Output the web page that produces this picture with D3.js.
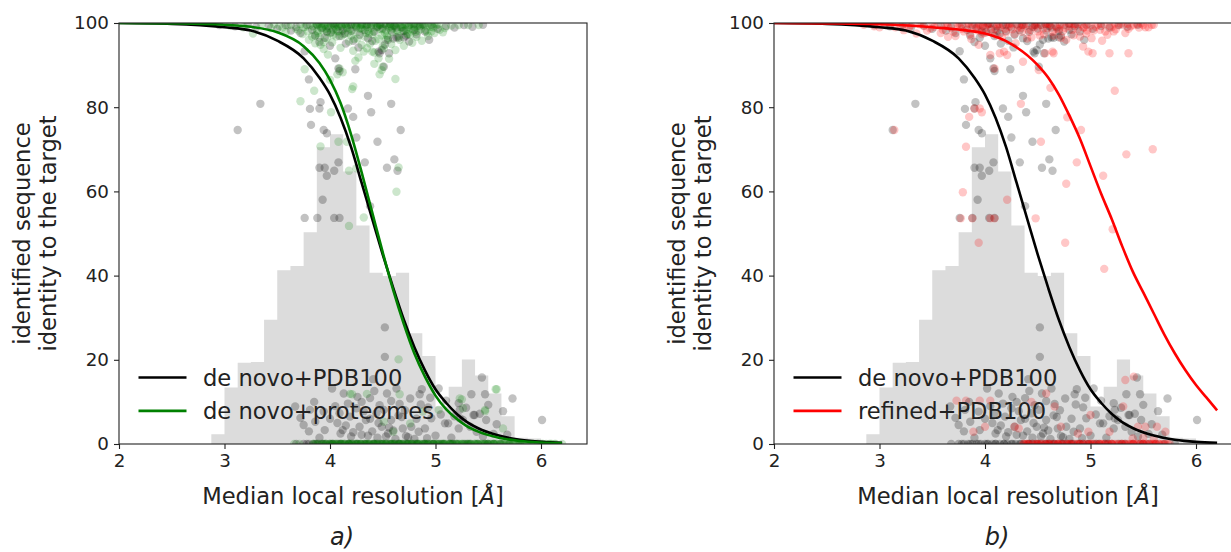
<!DOCTYPE html>
<html>
<head>
<meta charset="utf-8">
<script src="https://cdn.jsdelivr.net/npm/d3@7"></script>
<style>
  body { margin: 0; background: #fff; }
  svg text { font-family: "DejaVu Sans", sans-serif; fill: #222; }
</style>
</head>
<body>
<div id="fig"></div>
<script>
// histogram of median local resolution (bins of 0.125 starting at 2.875), heights in y units
var binStart = 2.875
var binWidth = 0.125
var histHeights = [2.3, 13.4, 19.3, 19.5, 29.5, 41.3, 42.3, 50.3, 70.5, 73.6, 64.7, 51.9, 40.7, 39.9, 40.7,
	26.3, 20.9, 8.9, 13.6, 20.1, 16.3, 12.0, 6.6, 1.5, 1.3, 0.5]

// fitted curves
var curveX = [2.0, 2.5, 3.0, 3.25, 3.5, 3.75, 3.9, 4.0, 4.1, 4.2, 4.3, 4.4, 4.5, 4.6, 4.7, 4.8, 4.9, 5.0, 5.1, 5.2, 5.3, 5.4, 5.6, 5.8, 6.0, 6.2]
var deNovoPDB = [100, 99.8, 99.0, 98.2, 95.8, 91.6, 87.0, 83.0, 77.5, 70.5, 62.0, 53.5, 45.0, 37.0, 29.5, 23.0, 17.5, 13.0, 9.8, 7.2, 5.2, 3.8, 2.0, 1.0, 0.5, 0.3]
var deNovoProteomes = [100, 99.9, 99.6, 99.1, 97.8, 94.5, 90.5, 86.5, 81.0, 73.5, 64.5, 55.0, 45.5, 36.5, 28.5, 21.5, 16.0, 11.5, 8.3, 6.0, 4.2, 3.0, 1.5, 0.7, 0.35, 0.2]
var refinedX = [2.0, 2.5, 3.0, 3.5, 4.0, 4.25, 4.5, 4.6, 4.7, 4.8, 4.9, 5.0, 5.1, 5.2, 5.3, 5.4, 5.5, 5.6, 5.7, 5.8, 5.9, 6.0, 6.1, 6.2]
var refinedPDB = [100, 99.9, 99.7, 99.0, 97.5, 95.0, 90.0, 87.0, 83.0, 78.0, 72.5, 66.0, 59.5, 53.5, 47.0, 41.0, 36.0, 31.0, 26.0, 21.5, 17.5, 14.0, 11.0, 8.0]

// scatter: de novo + PDB100 (shown in both panels)
var blackPts = [[3.125,74.6],[3.34,80.8],[3.80,86.6],[3.81,79.6],[3.90,79.7],[3.91,81.2],[4.05,91.6],[4.08,89.2],[4.09,88.6],
	[4.24,89],[4.36,82.7],[4.58,80.8],[4.39,78.8],[4.22,77.7],[3.82,75.8],[4.94,96],[4.63,96.6],[4.70,96.6],[4.56,92.8],
	[4.47,92.8],[4.46,93.2],[4.17,79.7],[3.94,74.6],[3.97,73.8],[4.67,74.6],[4.25,72.8],[4.45,71.8],[4.08,66.9],[4.33,66.9],
	[4.61,67.6],[4.54,65.6],[4.64,64.9],[3.90,65.6],[3.95,65.6],[4.04,64.9],[3.97,63.7],[3.93,58],[3.76,53.7],[3.88,53.7],
	[4.04,53.7],[4.09,53.7],[4.38,56.5],[4.52,27.7],[4.52,20.7],[4.41,15.4],[5.44,15.8],[5.34,11.8],[5.47,11.8],[5.73,10.8],
	[5.64,7.8],[6.01,5.7],[4.02,13.2],[4.13,12],[4.38,10.9],[4.54,12],[4.63,13.2],[4.87,13],[5.03,13.2],[5.22,9.7],[5.37,6.9],
	[5.48,5.7],[3.85,10],[4.76,10.8],[4.85,11.8],[5.23,8.1],[5.36,6.9],[5.26,5.7],[5.12,4.9],[5.22,3.7],[3.67,8.9],[3.81,8.1],
	[3.94,7.7],[4.09,7.3],[4.19,6.5],[4.28,4.1],[4.34,5.7],[4.44,7.3],[4.49,4.1],[4.58,5.7],[4.69,3.7],[4.77,4.1],[4.84,2.9],
	[4.90,3.7],[4.96,6.1],[5.09,4.9],[5.23,6.1],[5.33,4.1],[5.39,2.9],[4.10,2.5],[4.20,1.8],[4.30,2.2],[4.45,1.5],[4.55,2.5],
	[4.62,1.2],[4.72,1.9],[4.80,1.2],[4.12,3.3],[4.40,3.0],[5.0,2.0],[5.15,1.5],[5.45,1.8],[5.55,2.4],[3.95,3.3],[4.25,8.5],
	[4.47,9.2],[4.66,9.5],[4.93,8.7],[3.75,4.5],[4.68,6.4],[4.30,10.0],[4.58,10.2],[3.76,93.3],[4.49,93.6],[4.51,89.6],
	[4.55,96],[4.65,96.5],[4.72,97],
	[3.72,6.2],[3.86,5.3],[3.9,1.5],[4.0,6.0],[4.05,9.0],[4.15,4.4],[4.17,9.6],[4.22,2.8],[4.26,11.2],[4.32,7.8],[4.36,2.0],
	[4.42,12.6],[4.46,5.0],[4.51,8.1],[4.53,1.8],[4.6,3.2],[4.65,6.8],[4.71,8.0],[4.74,1.6],[4.82,6.0],[4.86,9.4],[4.92,1.4],
	[4.95,11.0],[5.05,7.0],[5.1,10.3],[5.18,6.6],[5.29,8.6],[5.42,7.2],[5.5,9.3],[5.58,4.7],[5.68,2.2],[3.8,3.0],[4.07,5.0],
	[4.38,6.0],[4.56,3.9]]
var blackTop = [[2.95,99.5],[3.1,99.2],[3.22,99.6],[3.3,99.0],[3.42,99.4],[3.5,98.6],[3.58,99.5],[3.63,98.2],[3.68,99.1],
	[3.72,97.6],[3.78,99.5],[3.83,98.4],[3.86,97.0],[3.88,99.6],[3.92,98.8],[3.95,96.5],[3.98,99.3],[4.01,97.8],[4.03,99.7],
	[4.06,98.5],[4.09,96.9],[4.11,99.2],[4.14,97.5],[4.17,99.6],[4.2,98.1],[4.22,95.8],[4.25,99.0],[4.28,97.2],[4.3,99.7],
	[4.33,98.3],[4.36,96.4],[4.39,99.4],[4.42,97.9],[4.45,99.1],[4.5,98.7],[4.53,99.6],[4.58,98.2],[4.61,99.3],[4.68,99.0],
	[4.75,99.5],[4.8,98.4],[4.85,99.2],[4.9,98.0],[4.96,99.6],[5.02,98.6],[5.1,99.3],[5.18,98.9],[5.27,99.5],[5.35,99.1],[5.45,99.6],
	[3.9,95.5],[4.0,94.6],[4.15,95.1],[4.27,94.2],[4.4,95.7],[4.52,94.9],[4.6,96.3],[4.75,95.6],[4.82,97.3],[4.88,99.7],
	[4.12,98.2],[4.35,99.6],[4.57,99.8],[4.7,98.1],[3.97,98.0],[4.05,99.9],[4.2,99.5],[4.47,99.5],[4.63,98.9],[4.8,99.8]]
var blackZero = [3.68,3.75,3.8,3.84,3.88,3.92,3.96,4.0,4.03,4.07,4.1,4.14,4.18,4.21,4.25,4.29,4.33,4.37,4.41,4.45,4.49,4.53,
	4.57,4.61,4.65,4.69,4.73,4.78,4.83,4.88,4.93,4.98,5.03,5.08,5.14,5.2,5.27,5.33,5.4,5.47,5.55,5.62,5.7,5.8,
	3.78,3.86,3.94,4.02,4.1,4.18,4.26,4.34,4.42,4.5,4.58,4.66,4.74,4.82,4.9,4.98,5.06,5.16,5.3,5.5]

// scatter: de novo + proteomes
var greenPts = [[3.27,97.5],[3.72,81.4],[3.76,89],[3.85,83.9],[4.01,78.8],[4.21,84.3],[4.22,84.9],[4.24,91],[4.09,89.2],
	[4.12,88.3],[4.07,87.8],[4.50,89.6],[4.49,88.8],[4.47,87.8],[4.62,86.7],[3.91,94.8],[3.94,95.5],[4.32,93.2],[4.35,94],
	[4.40,93.2],[4.46,91.6],[4.51,94],[4.53,96],[3.80,96],[3.86,97.1],[3.91,70.7],[4.08,71.8],[4.16,71.8],[4.18,64.9],
	[4.25,65.5],[4.65,65.7],[4.63,59.9],[4.32,53.8],[4.18,51.8],[4.65,20.1],[4.66,11.8],[4.21,11.8],[5.57,13],[5.47,7.8],
	[5.25,10.6],[5.64,3.7],[5.58,13],[5.23,10.8],[5.47,8.1],[5.26,8.5],[4.19,11.9],[4.35,11.9],[4.51,5.3],[4.60,2.9],
	[4.76,4.9],[4.88,7.7],[5.03,8.1],[4.0,86.5],[4.27,91.8],[4.42,90.3],[3.98,92.5],[4.56,91.5]]
var greenTop = [[3.05,99.4],[3.18,99.0],[3.35,99.6],[3.44,98.8],[3.52,99.3],[3.58,97.9],[3.63,99.5],[3.68,98.6],
	[3.72,99.7],[3.74,97.4],[3.77,99.1],[3.79,98.0],[3.81,99.6],[3.83,96.8],[3.85,98.9],[3.87,99.8],[3.89,97.6],[3.91,99.2],
	[3.93,98.3],[3.95,99.7],[3.97,96.4],[3.99,98.8],[4.01,99.5],[4.03,97.2],[4.05,99.0],[4.07,98.1],[4.09,99.8],[4.11,96.9],
	[4.13,98.6],[4.15,99.4],[4.17,97.7],[4.19,99.9],[4.21,98.2],[4.23,96.2],[4.25,99.3],[4.27,97.9],[4.29,99.6],[4.31,98.5],
	[4.33,96.7],[4.35,99.1],[4.37,97.5],[4.39,99.7],[4.41,98.0],[4.43,95.8],[4.45,99.4],[4.47,98.6],[4.49,97.1],[4.51,99.8],
	[4.53,98.3],[4.55,96.5],[4.57,99.2],[4.59,97.8],[4.61,99.6],[4.63,98.4],[4.65,96.9],[4.67,99.0],[4.69,98.1],[4.71,99.5],
	[4.73,97.4],[4.75,99.2],[4.77,98.6],[4.79,99.7],[4.81,97.9],[4.83,99.3],[4.86,98.5],[4.89,99.6],[4.92,97.8],[4.95,99.1],
	[4.98,98.9],[5.01,99.5],[5.04,98.4],[5.07,97.8],[5.15,99.4],[5.22,99.5],[5.31,99.5],[5.41,99.5],
	[3.84,99.3],[3.88,98.1],[3.92,99.8],[3.96,98.6],[4.0,97.6],[4.04,99.4],[4.08,98.0],[4.12,99.6],[4.16,98.8],[4.2,97.0],
	[4.24,99.5],[4.28,98.7],[4.32,99.9],[4.36,98.2],[4.4,97.3],[4.44,99.0],[4.48,99.8],[4.52,97.6],[4.56,98.9],[4.6,99.4],
	[4.64,98.0],[4.68,99.7],[4.72,98.3],[4.76,97.2],[4.8,99.1],[4.84,98.2],[4.9,99.4],[4.96,98.0],
	[3.86,95.2],[3.9,96.6],[3.94,93.8],[3.97,97.9],[4.02,95.4],[4.06,96.8],[4.1,94.1],[4.13,97.3],[4.18,95.6],[4.22,93.4],
	[4.26,96.3],[4.3,94.8],[4.34,97.6],[4.38,95.1],[4.42,93.0],[4.46,96.2],[4.5,94.5],[4.54,97.0],[4.58,95.0],[4.62,93.6],
	[4.66,96.0],[4.7,94.6],[4.74,97.4],[4.78,95.3],[4.82,96.7],[4.87,95.8],[4.93,96.9],[4.99,97.6],[3.88,99.5],[3.93,99.0],
	[3.98,99.9],[4.03,98.4],[4.08,99.2],[4.14,99.9],[4.19,98.6],[4.24,99.7],[4.29,98.8],[4.34,99.5],[4.39,98.9],[4.44,99.8],
	[4.49,98.5],[4.54,99.3],[4.59,98.7],[4.64,99.9],[4.69,98.8],[4.74,99.1],[4.79,98.2],[4.85,99.6],[4.91,98.3],[4.97,99.2],
	[5.03,99.7],[5.09,98.8],[3.75,99.0],[3.7,98.2],[3.6,99.4],[3.47,99.7],[3.55,98.9],
	[3.9,99.9],[3.95,99.4],[4.0,99.8],[4.06,99.6],[4.1,99.9],[4.15,99.7],[4.21,99.8],[4.26,99.9],[4.31,99.6],[4.37,99.8],
	[4.42,99.9],[4.47,99.7],[4.52,99.9],[4.57,99.8],[4.62,99.9],[4.67,99.6],[4.72,99.9],[4.77,99.8],[4.82,99.9],[4.87,99.7],
	[4.93,99.9],[4.99,99.8]]
var greenZero = [3.66,3.71,3.84,3.87,3.9,3.93,3.96,3.99,4.02,4.05,4.08,4.11,4.14,4.17,4.2,4.23,4.26,4.29,4.32,4.35,4.38,
	4.41,4.44,4.47,4.5,4.53,4.56,4.59,4.62,4.65,4.68,4.71,4.74,4.77,4.8,4.83,4.86,4.89,4.92,4.95,4.98,5.01,5.04,5.07,5.1,
	5.13,5.16,5.19,5.22,5.25,5.28,5.31,5.34,5.37,5.4,5.43,5.46,5.49,5.52,5.55,5.58,5.61,5.64,5.67,5.7,5.74,5.78,5.82,5.87,
	5.92,5.97,6.02,6.08,6.14,6.2,4.0,4.06,4.12,4.18,4.24,4.3,4.36,4.42,4.48,4.54,4.6,4.66,4.72,4.78,4.84,4.9,4.96,5.02,
	5.08,5.14,5.2,5.26,5.32,5.38,5.44,5.5,5.56,
	3.85,3.89,3.93,3.97,4.01,4.05,4.09,4.13,4.17,4.21,4.25,4.29,4.33,4.37,4.41,4.45,4.49,4.53,4.57,4.61,4.65,4.69,4.73,
	4.77,4.81,4.85,4.89,4.93,4.97,5.01,5.05,5.09,5.13,5.17,5.21,5.25,5.29,5.33,5.37,5.41,5.45,5.49,5.53,5.57,5.61,5.65,
	5.69,5.73,5.77,5.81,5.85,5.89,5.93,5.97,6.01,6.05,6.09,6.13,
	3.95,4.03,4.11,4.19,4.27,4.35,4.43,4.51,4.59,4.67,4.75,4.83,4.91,4.99,5.07,5.15,5.23,5.31,5.39,5.47,5.55,5.63,5.71,
	5.79,5.9,6.0,6.1]

// scatter: refined + PDB100
var redPts = [[4.34,80.8],[4.78,77.6],[4.91,74.6],[4.53,71.8],[5.34,68.8],[5.59,70],[4.87,66.9],[5.12,63.7],[4.77,61.8],
	[3.82,70.6],[3.85,77.7],[3.90,79.7],[3.95,79.7],[3.97,78.8],[3.79,59.8],[4.21,58],[4.48,53.6],[3.77,53.6],[3.88,53.6],
	[4.05,53.6],[4.09,53.6],[3.94,47.8],[4.76,47.8],[5.21,51],[5.13,41.6],[3.14,74.6],[5.23,83.9],[5.36,92.8],[5.18,92.8],
	[5.02,92.8],[4.65,92.8],[4.57,92.8],[4.51,88.8],[4.36,90.8],[4.62,84.6],[4.05,92.4],[4.14,92.8],[3.94,94.8],[4.09,89.2],
	[4.18,93.2],[4.21,92.4],[4.64,93.2],[4.93,94.4],[4.98,93.2],[3.65,96.7],[5.41,16],[5.33,15.2],[3.73,10.3],[3.82,10.3],
	[3.95,10.3],[4.05,10.3],[4.58,12],[4.44,10],[4.66,8.9],[5.00,6.9],[3.89,2.9],[4.0,4.1],[4.28,4.1],[4.32,3.7],[4.72,4.1],
	[4.88,2.5],[4.98,2.9],[5.18,2.9],[5.31,8.9],[5.45,4.1],[5.52,4.1],[5.63,4.1],[5.71,2.9],[5.60,1.2],[5.50,1.5],[5.40,1.3]]
var redTop = [[2.85,99.6],[2.95,99.2],[3.05,99.7],[3.15,99.0],[3.23,98.3],[3.3,99.5],[3.35,97.5],[3.42,99.3],[3.48,98.7],
	[3.55,99.6],[3.6,98.4],[3.65,99.2],[3.7,97.9],[3.74,99.7],[3.78,98.6],[3.82,99.3],[3.86,97.4],[3.9,99.8],[3.93,98.2],
	[3.96,99.1],[3.99,97.6],[4.02,99.5],[4.05,98.4],[4.08,99.7],[4.11,97.1],[4.14,98.9],[4.17,99.6],[4.2,97.8],[4.23,99.2],
	[4.26,98.5],[4.29,95.2],[4.32,99.4],[4.35,97.9],[4.38,99.8],[4.41,98.3],[4.44,96.6],[4.47,99.1],[4.5,98.0],[4.53,99.6],
	[4.56,97.3],[4.59,98.8],[4.62,99.5],[4.65,97.0],[4.68,98.7],[4.71,99.6],[4.74,98.1],[4.77,96.0],[4.8,99.2],[4.83,98.4],
	[4.86,99.7],[4.9,96.8],[4.93,98.9],[4.96,97.5],[5.0,99.4],[5.03,98.2],[5.07,99.6],[5.11,95.8],[5.14,98.0],[5.18,99.3],
	[5.22,98.0],[5.26,99.5],[5.31,99.5],[5.36,98.6],[5.41,99.5],[5.46,98.9],[5.5,99.5],[5.55,99.0],[5.58,99.5],
	[3.88,98.9],[3.98,99.4],[4.1,98.6],[4.22,99.7],[4.34,98.8],[4.46,99.6],[4.58,99.9],[4.7,98.5],[4.82,99.8],[4.94,99.0],
	[3.0,99.0],[3.1,99.8],[3.2,99.3],[3.28,98.9],[3.38,99.7],[3.45,98.2],[3.52,99.1],[3.58,97.6],[3.62,99.8],[3.68,98.8],
	[3.72,96.9],[3.76,99.4],[3.8,98.0],[3.84,99.9],[3.87,96.2],[3.91,98.7],[3.95,99.6],[3.97,97.4],[4.0,98.8],[4.04,99.8],
	[4.07,97.7],[4.12,99.4],[4.16,96.6],[4.19,98.6],[4.24,99.9],[4.28,97.4],[4.31,98.9],[4.36,99.5],[4.4,96.3],[4.43,98.4],
	[4.48,99.6],[4.52,97.0],[4.55,98.7],[4.6,99.8],[4.64,97.9],[4.67,99.3],[4.72,96.5],[4.76,98.8],[4.79,99.9],[4.84,97.1],
	[4.88,98.6],[4.92,99.7],[4.97,98.2],[5.01,96.4],[5.05,99.1],[5.09,98.4],[5.13,99.7],[5.16,97.2],[5.2,99.0],[5.24,98.5],
	[5.29,99.8],[5.33,97.6],[5.38,99.2],[5.44,99.7],[5.52,99.0],[5.6,99.6],
	[3.25,99.9],[3.4,99.8],[3.5,99.9],[3.64,99.9],[3.75,99.8],[3.85,99.7],[3.94,99.9],[4.03,99.9],[4.13,99.8],[4.25,99.9],
	[4.37,99.7],[4.49,99.9],[4.61,99.8],[4.73,99.9],[4.85,99.7],[4.98,99.9],[5.1,99.8],[5.23,99.9],[5.35,99.8],[5.48,99.9]]
var redZero = [4.36,4.39,4.42,4.45,4.48,4.51,4.54,4.57,4.6,4.63,4.66,4.69,4.72,4.75,4.78,4.81,4.84,4.87,4.9,4.93,4.96,
	4.99,5.02,5.05,5.08,5.11,5.14,5.17,5.2,5.23,5.26,5.29,5.32,5.35,5.38,5.41,5.44,5.47,5.5,5.53,5.56,5.59,5.62,5.65,5.68,
	5.71,5.75,4.4,4.5,4.6,4.7,4.8,4.9,5.0,5.1,5.2,5.3,5.4,5.5,5.6,
	4.37,4.41,4.45,4.49,4.53,4.57,4.61,4.65,4.69,4.73,4.77,4.81,4.85,4.89,4.93,4.97,5.01,5.05,5.09,5.13,5.17,5.21,5.25,
	5.29,5.33,5.37,5.41,5.45,5.49,5.53,5.57,5.61,5.65,5.69,5.73]

var xTicks = [2, 3, 4, 5, 6]
var yTicks = [0, 20, 40, 60, 80, 100]

var width = 1231, height = 552
var plotW = 468, plotH = 421

var svg = d3.select("#fig").append("svg")
	.attr("width", width)
	.attr("height", height)

var x = d3.scaleLinear().domain([2, 6.436]).range([0, plotW])
var y = d3.scaleLinear().domain([0, 100]).range([plotH, 0])

function zeroPts(xs){ return xs.map(function(v){ return [v, 0] }) }

// histogram as one stepped area so neighbouring bars have no seams
var histSteps = histHeights.map(function(h, i){ return [binStart + i * binWidth, h] })
histSteps.push([binStart + histHeights.length * binWidth, 0])

function panel(ox, id, series, curves, legend, caption){
	var g = svg.append("g").attr("transform", "translate(" + ox + ",23)")

	g.append("clipPath").attr("id", "clip" + id)
		.append("rect").attr("width", plotW).attr("height", plotH)

	var inner = g.append("g").attr("clip-path", "url(#clip" + id + ")")

	// histogram
	inner.append("path")
		.datum(histSteps)
		.attr("d", d3.area()
			.x(function(d){ return x(d[0]) })
			.y0(y(0))
			.y1(function(d){ return y(d[1]) })
			.curve(d3.curveStepAfter))
		.attr("fill", "#dcdcdc")

	// scatter
	series.forEach(function(s){
		inner.append("g").selectAll("circle")
			.data(s.pts)
			.enter()
			.append("circle")
			.attr("cx", function(d){ return x(d[0]) })
			.attr("cy", function(d){ return y(d[1]) })
			.attr("r", 4.2)
			.attr("fill", s.color)
			.attr("fill-opacity", s.alpha)
	})

	// fitted curves
	var line = d3.line()
		.x(function(d){ return x(d[0]) })
		.y(function(d){ return y(d[1]) })
		.curve(d3.curveMonotoneX)
	curves.forEach(function(c){
		inner.append("path")
			.datum(c.xs.map(function(v, i){ return [v, c.ys[i]] }))
			.attr("d", line)
			.attr("fill", "none")
			.attr("stroke", c.color)
			.attr("stroke-width", 2.6)
	})

	// axes
	var xAxis = g.append("g").attr("transform", "translate(0," + plotH + ")")
		.call(d3.axisBottom(x).tickValues(xTicks).tickFormat(d3.format("d")).tickSize(5).tickPadding(5))
	var yAxis = g.append("g")
		.call(d3.axisLeft(y).tickValues(yTicks).tickFormat(d3.format("d")).tickSize(5).tickPadding(5))
	;[xAxis, yAxis].forEach(function(a){
		a.select(".domain").remove()
		a.selectAll("line").attr("stroke", "#222").attr("stroke-width", 1.1)
		a.selectAll("text").style("font-size", "18.3px").attr("fill", "#222")
	})

	g.append("rect")
		.attr("width", plotW).attr("height", plotH)
		.attr("fill", "none").attr("stroke", "#222").attr("stroke-width", 1.1)

	// labels
	g.append("text")
		.attr("x", plotW / 2).attr("y", 481)
		.attr("text-anchor", "middle")
		.style("font-size", "22.6px")
		.html("Median local resolution [<tspan font-style='italic'>Å</tspan>]")

	var yl = g.append("text")
		.attr("transform", "translate(-89," + plotH / 2 + ") rotate(-90)")
		.attr("text-anchor", "middle")
		.style("font-size", "22.6px")
	yl.append("tspan").attr("x", 0).attr("dy", 0).text("identified sequence")
	yl.append("tspan").attr("x", 0).attr("dy", 25.5).text("identity to the target")

	g.append("text")
		.attr("x", 223).attr("y", 522)
		.attr("text-anchor", "middle")
		.style("font-size", "24px")
		.style("font-style", "italic")
		.text(caption)

	// legend
	legend.forEach(function(l, i){
		var ly = 354.5 + i * 33.4
		g.append("line")
			.attr("x1", 19.5).attr("x2", 67.5)
			.attr("y1", ly).attr("y2", ly)
			.attr("stroke", l.color).attr("stroke-width", 2.6)
		g.append("text")
			.attr("x", 84).attr("y", ly + 8)
			.style("font-size", "22.6px")
			.text(l.label)
	})
}

panel(119, "a",
	[{pts: blackPts.concat(blackTop, zeroPts(blackZero)), color: "#000", alpha: 0.24},
	 {pts: greenPts.concat(greenTop, zeroPts(greenZero)), color: "green", alpha: 0.2}],
	[{xs: curveX, ys: deNovoPDB, color: "#000"},
	 {xs: curveX, ys: deNovoProteomes, color: "green"}],
	[{label: "de novo+PDB100", color: "#000"}, {label: "de novo+proteomes", color: "green"}],
	"a)")

panel(774, "b",
	[{pts: blackPts.concat(blackTop, zeroPts(blackZero)), color: "#000", alpha: 0.24},
	 {pts: redPts.concat(redTop, zeroPts(redZero)), color: "red", alpha: 0.22}],
	[{xs: curveX, ys: deNovoPDB, color: "#000"},
	 {xs: refinedX, ys: refinedPDB, color: "red"}],
	[{label: "de novo+PDB100", color: "#000"}, {label: "refined+PDB100", color: "red"}],
	"b)")
</script>
</body>
</html>
